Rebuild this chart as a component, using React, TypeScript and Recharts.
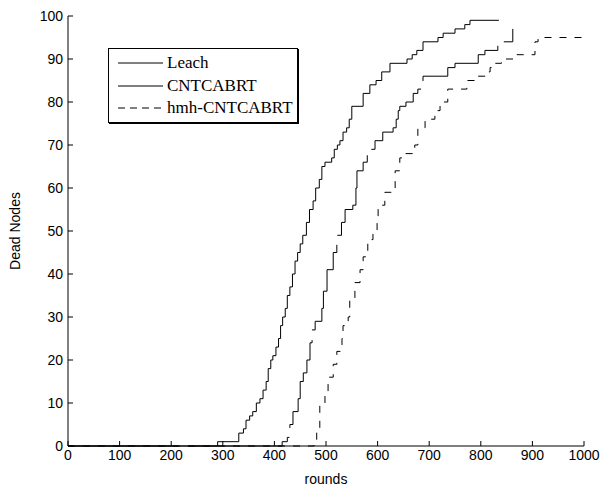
import React from 'react';
import { LineChart, Line, XAxis, YAxis } from 'recharts';

// rounds at which the dead-node count steps up, and the count after the step
const leachRounds = [0, 290, 331, 340, 345, 352, 358, 365, 372, 378, 384, 388, 393, 397, 403, 408, 412, 416, 421, 425, 430, 435, 440, 445, 450, 455, 462, 468, 475, 480, 487, 492, 498, 511, 516, 522, 527, 533, 540, 545, 550, 572, 585, 597, 608, 624, 657, 667, 676, 688, 717, 727, 750, 769, 779, 835];
const leachDead = [0, 1, 3, 4, 6, 7, 8, 10, 11, 13, 15, 18, 20, 21, 23, 25, 28, 30, 32, 35, 37, 40, 43, 45, 47, 49, 52, 55, 57, 60, 62, 65, 66, 67, 69, 70, 71, 73, 74, 76, 79, 82, 84, 85, 87, 89, 90, 91, 92, 94, 95, 96, 97, 98, 99, 99];

const cntRounds = [0, 415, 425, 430, 436, 446, 450, 456, 463, 469, 473, 479, 492, 495, 502, 514, 521, 530, 537, 552, 558, 560, 572, 580, 585, 595, 610, 630, 636, 640, 643, 655, 669, 678, 688, 715, 736, 750, 795, 808, 833, 862];
const cntDead = [0, 1, 2, 5, 8, 11, 15, 17, 20, 24, 27, 29, 32, 36, 41, 45, 49, 52, 55, 56, 60, 64, 66, 68, 69, 71, 73, 74, 76, 78, 79, 80, 82, 83, 86, 86, 88, 89, 91, 92, 94, 97];

const hmhRounds = [0, 477, 482, 488, 498, 504, 514, 521, 531, 533, 543, 546, 556, 566, 572, 581, 591, 599, 601, 614, 628, 634, 643, 650, 672, 678, 692, 711, 721, 736, 756, 773, 793, 814, 818, 822, 840, 870, 905, 911, 1000];
const hmhDead = [0, 1, 4, 10, 12, 16, 19, 22, 25, 28, 30, 34, 38, 41, 44, 48, 50, 53, 56, 59, 60, 64, 67, 68, 70, 74, 76, 78, 80, 83, 83, 85, 86, 87, 88, 89, 90, 91, 94, 95, 95];

const xTicks = [0, 100, 200, 300, 400, 500, 600, 700, 800, 900, 1000];
const yTicks = [0, 10, 20, 30, 40, 50, 60, 70, 80, 90, 100];

const toPoints = (xs: number[], ys: number[]) => xs.map((x, i) => ({ x, y: ys[i] }));

const series = [
  { name: 'Leach', data: toPoints(leachRounds, leachDead), dash: undefined },
  { name: 'CNTCABRT', data: toPoints(cntRounds, cntDead), dash: '110 10' },
  { name: 'hmh-CNTCABRT', data: toPoints(hmhRounds, hmhDead), dash: '7 8' },
];

const tickFont = { fontFamily: '"Liberation Sans", Arial, sans-serif', fontSize: 14, fill: '#000' };

// MATLAB style: tick marks point into the plot
const YTick = (props: any) => {
  const { x, y, payload } = props;
  return (
    <g>
      <line x1={x + 5} x2={x + 10} y1={y} y2={y} stroke="#000" />
      <text x={x} y={y} dy={5} textAnchor="end" {...tickFont}>{payload.value}</text>
    </g>
  );
};

const XTick = (props: any) => {
  const { x, y, payload } = props;
  return (
    <g>
      <line x1={x} x2={x} y1={y - 4} y2={y - 9} stroke="#000" />
      <text x={x} y={y} dy={10} textAnchor="middle" {...tickFont}>{payload.value}</text>
    </g>
  );
};

const LegendBox = () => (
  <div
    style={{
      position: 'absolute',
      left: 108,
      top: 48,
      width: 188,
      height: 73,
      border: '1px solid #000',
      boxShadow: '1px 1px 0 #000',
      background: '#fff',
      fontFamily: '"Liberation Serif", "Times New Roman", serif',
      fontSize: 17,
      color: '#000',
    }}
  >
    {series.map((s, i) => (
      <div key={s.name} style={{ position: 'absolute', left: 9, top: 4 + i * 22.5, height: 20, display: 'flex', alignItems: 'center' }}>
        <svg width={46} height={20}>
          <line x1={0} x2={45} y1={10} y2={10} stroke="#000" strokeDasharray={i === 2 ? '7 5' : undefined} />
        </svg>
        <span style={{ marginLeft: 3, lineHeight: '20px' }}>{s.name}</span>
      </div>
    ))}
  </div>
);

export default function App() {
  return (
    <div style={{ position: 'absolute', left: 0, top: 0, width: 600, height: 488, background: '#fff' }}>
      <LineChart width={600} height={488} margin={{ top: 16, right: 16, bottom: 0, left: 0 }}>
        <XAxis
          dataKey="x"
          type="number"
          domain={[0, 1000]}
          ticks={xTicks}
          allowDataOverflow
          height={42}
          tickSize={0}
          tickMargin={4}
          tickLine={false}
          tick={<XTick />}
          stroke="#000"
          label={{ value: 'rounds', position: 'insideBottom', offset: 4, ...tickFont }}
        />
        <YAxis
          dataKey="y"
          type="number"
          domain={[0, 100]}
          ticks={yTicks}
          width={68}
          tickSize={0}
          tickMargin={5}
          tickLine={false}
          tick={<YTick />}
          stroke="#000"
          label={{ value: 'Dead Nodes', angle: -90, position: 'insideLeft', offset: 15, style: { textAnchor: 'middle' }, ...tickFont }}
        />
        {series.map(s => (
          <Line
            key={s.name}
            name={s.name}
            data={s.data}
            dataKey="y"
            type="stepAfter"
            stroke="#000"
            strokeWidth={1}
            strokeDasharray={s.dash}
            dot={false}
            activeDot={false}
            isAnimationActive={false}
          />
        ))}
      </LineChart>
      <LegendBox />
    </div>
  );
}
